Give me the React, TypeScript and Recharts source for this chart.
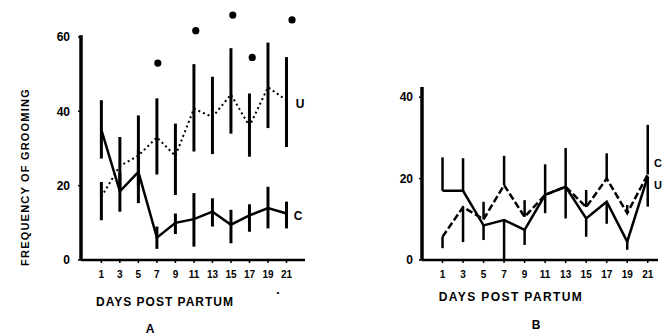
import React from 'react';
import { ComposedChart, Line, XAxis, YAxis, ErrorBar, Scatter, ReferenceLine } from 'recharts';

// Shared categories (days post partum)
const days = [1, 3, 5, 7, 9, 11, 13, 15, 17, 19, 21];

// Panel A
const aC = [35, 18.5, 23.7, 6, 10, 11, 13, 9.5, 12, 14, 12.5];
const aCLow = [7.7, 5.5, 8.4, 3, 3, 7.4, 4, 5, 4.4, 5.5, 4];
const aCHigh = [8, 5, 6, 3, 2.5, 7, 3.6, 4, 3, 5.7, 3.2];
const aU = [17, 25.3, 28.1, 33, 28, 40.7, 38.5, 44.5, 36, 46.5, 43];
const aULow = [6.3, 6, 8, 10, 10.5, 11.5, 10, 10.5, 8.2, 11, 12.6];
const aUHigh = [4, 7.8, 10.8, 10.5, 8.7, 12, 10.8, 12.5, 8.8, 12, 11.6];
const aStarDays = [7.1, 11.2, 15.2, 17.3, 21.6];
const aStarValues = [53, 61.7, 65.9, 54.5, 64.6];

// Panel B
const bC = [17, 17, 8.5, 9.8, 7.4, 16, 18, 10.2, 14.3, 4.5, 20.5];
const bCLow = [0, 0, 3.6, 9.8, 3.7, 4.5, 7.8, 4.5, 5.4, 2, 7.4];
const bCHigh = [8.2, 8, 0, 0, 0, 0, 0, 0, 0, 0, 0];
const bU = [5.7, 13, 10, 18.4, 10.6, 16, 18, 13, 20, 11.5, 21];
const bULow = [2.8, 8.6, 0, 0, 0, 0, 0, 0, 0, 0, 0];
const bUHigh = [0, 0, 4.3, 7.2, 4.1, 7.5, 9.5, 4.2, 6.2, 2, 12.2];

const aTicks = [0, 20, 40, 60];
const bTicks = [0, 20, 40];

const dataA = days.map((d, i) => ({
  day: d,
  c: aC[i],
  cErr: [aCLow[i], aCHigh[i]],
  u: aU[i],
  uErr: [aULow[i], aUHigh[i]],
}));
const starsA = aStarDays.map((d, i) => ({ day: d, v: aStarValues[i] }));

const dataB = days.map((d, i) => ({
  day: d,
  c: bC[i],
  cErr: [bCLow[i], bCHigh[i]],
  u: bU[i],
  uErr: [bULow[i], bUHigh[i]],
}));

const FONT = '"Liberation Sans", Arial, Helvetica, sans-serif';
const tickStyle = { fontSize: 10, fontWeight: 700, fill: '#000', fontFamily: FONT };
const yTickStyle = { fontSize: 12, fontWeight: 700, fill: '#000', fontFamily: FONT };

const StarDot = (props: any) => {
  const { cx, cy } = props;
  if (typeof cx !== 'number' || typeof cy !== 'number') return null;
  return <circle cx={cx} cy={cy} r={3.6} fill="#000" />;
};

const txt = (s: string, x: number, y: number, extra: React.CSSProperties = {}) => (
  <div
    style={{
      position: 'absolute',
      left: x,
      top: y,
      transform: 'translate(-50%, -50%)',
      fontFamily: FONT,
      fontWeight: 700,
      fontSize: 12,
      color: '#000',
      whiteSpace: 'nowrap',
      lineHeight: 1,
      ...extra,
    }}
  >
    {s}
  </div>
);

export default function App() {
  return (
    <div style={{ position: 'absolute', left: 0, top: 0, width: 671, height: 335, background: '#fff', overflow: 'hidden' }}>
      <div style={{ position: 'absolute', left: 0, top: 0 }}>
        <ComposedChart width={340} height={335} data={dataA} margin={{ top: 11, right: 35, bottom: 45, left: 51 }}>
          <XAxis
            dataKey="day"
            type="number"
            domain={[-1.2, 23]}
            ticks={days}
            interval={0}
            allowDataOverflow
            tick={tickStyle}
            tickSize={3}
            tickMargin={8}
            axisLine={{ stroke: '#000', strokeWidth: 2.5 }}
            tickLine={{ stroke: '#000', strokeWidth: 1.5 }}
            height={30}
          />
          <YAxis
            type="number"
            domain={[0, 67]}
            ticks={aTicks}
            interval={0}
            allowDataOverflow
            tick={yTickStyle}
            tickSize={3}
            tickMargin={8}
            axisLine={false}
            tickLine={{ stroke: '#000', strokeWidth: 1.5 }}
            width={30}
          />
          <ReferenceLine
            segment={[{ x: -1.2, y: 0 }, { x: -1.2, y: 60.5 }]}
            stroke="#000"
            strokeWidth={3.5}
            ifOverflow="visible"
          />
          <Line dataKey="u" stroke="#000" strokeWidth={2} strokeDasharray="2 3" dot={false} isAnimationActive={false}>
            <ErrorBar dataKey="uErr" direction="y" width={0} stroke="#000" strokeWidth={3} />
          </Line>
          <Line dataKey="c" stroke="#000" strokeWidth={2.5} dot={false} isAnimationActive={false}>
            <ErrorBar dataKey="cErr" direction="y" width={0} stroke="#000" strokeWidth={3} />
          </Line>
          <Scatter data={starsA} dataKey="v" fill="#000" shape={StarDot} isAnimationActive={false} />
        </ComposedChart>
      </div>

      <div style={{ position: 'absolute', left: 340, top: 0 }}>
        <ComposedChart width={331} height={335} data={dataB} margin={{ top: 87, right: 13, bottom: 45, left: 52 }}>
          <XAxis
            dataKey="day"
            type="number"
            domain={[-1, 22]}
            ticks={days}
            interval={0}
            allowDataOverflow
            tick={tickStyle}
            tickSize={3}
            tickMargin={8}
            axisLine={{ stroke: '#000', strokeWidth: 2.5 }}
            tickLine={{ stroke: '#000', strokeWidth: 1.5 }}
            height={30}
          />
          <YAxis
            type="number"
            domain={[0, 42.5]}
            ticks={bTicks}
            interval={0}
            allowDataOverflow
            tick={yTickStyle}
            tickSize={3}
            tickMargin={6}
            axisLine={{ stroke: '#000', strokeWidth: 3.5 }}
            tickLine={{ stroke: '#000', strokeWidth: 1.5 }}
            width={30}
          />
          <Line dataKey="u" stroke="#000" strokeWidth={2.5} strokeDasharray="7 3" dot={false} isAnimationActive={false}>
            <ErrorBar dataKey="uErr" direction="y" width={0} stroke="#000" strokeWidth={2.5} />
          </Line>
          <Line dataKey="c" stroke="#000" strokeWidth={2.5} dot={false} isAnimationActive={false}>
            <ErrorBar dataKey="cErr" direction="y" width={0} stroke="#000" strokeWidth={2.5} />
          </Line>
        </ComposedChart>
      </div>

      {txt('FREQUENCY OF GROOMING', 25, 177, { transform: 'translate(-50%, -50%) rotate(-90deg)', fontSize: 11, letterSpacing: 1.2 })}
      {txt('DAYS POST PARTUM', 165, 302, { letterSpacing: 1 })}
      {txt('DAYS POST PARTUM', 511, 297, { letterSpacing: 1.4 })}
      {txt('U', 300, 104, { fontSize: 12 })}
      {txt('C', 298, 216, { fontSize: 12 })}
      {txt('C', 658, 163, { fontSize: 11 })}
      {txt('U', 658, 185, { fontSize: 11 })}
      {txt('A', 150, 329, { fontSize: 12 })}
      {txt('B', 536, 325, { fontSize: 12 })}
      {txt('•', 278, 293, { fontSize: 8 })}
    </div>
  );
}
